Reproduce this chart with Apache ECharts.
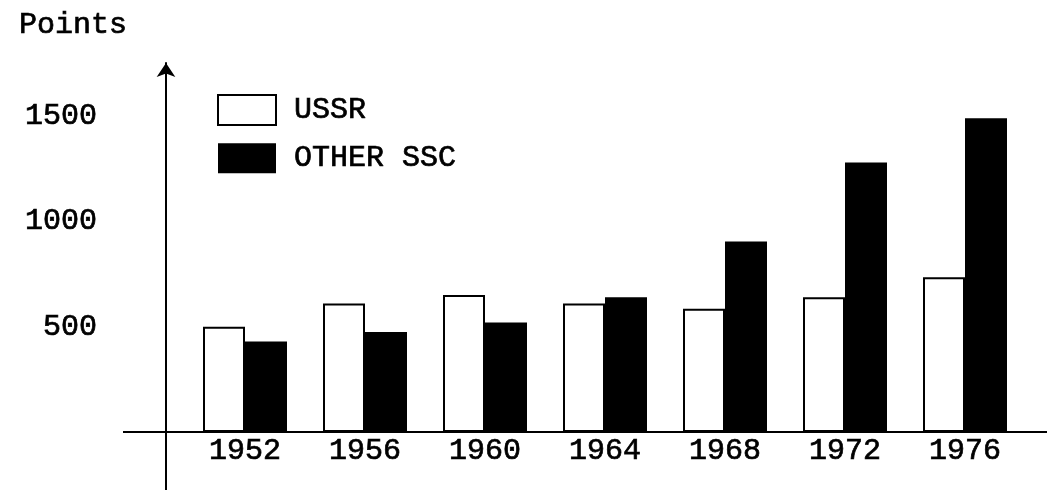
<!DOCTYPE html>
<html>
<head>
<meta charset="utf-8">
<script src="https://cdn.jsdelivr.net/npm/echarts@6/dist/echarts.min.js"></script>
<style>
html,body{margin:0;padding:0;background:#fff;}
#chart{width:1047px;height:498px;}
</style>
</head>
<body>
<div id="chart"></div>
<script>
// ---- data ----
const years = ['1952', '1956', '1960', '1964', '1968', '1972', '1976'];
const ussr = [500, 610, 650, 610, 585, 640, 735];
const otherSSC = [430, 475, 520, 640, 905, 1280, 1490];
const yTickLabels = [500, 1000, 1500];
const seriesNames = ['USSR', 'OTHER SSC'];
const yAxisTitle = 'Points';

// ---- layout / style ----
const INK = '#000';
const TXT = {
  fontFamily: '"Liberation Mono", "Courier New", monospace',
  fontSize: 30,
  fontWeight: 'normal',
  color: INK,
  textBorderColor: INK,
  textBorderWidth: 0.7
};
const GRID_LEFT = 185, GRID_RIGHT = 22, GRID_TOP = 63, GRID_BOTTOM = 66;
const Y_AXIS_OFFSET = 19;

const chart = echarts.init(document.getElementById('chart'), null, {renderer: 'canvas'});

const option = {
  backgroundColor: '#fff',
  animation: false,
  title: {
    text: yAxisTitle,
    left: 14,
    top: 5,
    textStyle: Object.assign({}, TXT)
  },
  legend: {
    orient: 'vertical',
    left: 212,
    top: 89,
    itemWidth: 58,
    itemHeight: 30,
    itemGap: 17,
    icon: 'rect',
    data: seriesNames,
    textStyle: Object.assign({}, TXT, {padding: [0, 0, 0, 13]})
  },
  grid: {left: GRID_LEFT, right: GRID_RIGHT, top: GRID_TOP, bottom: GRID_BOTTOM, containLabel: false, outerBoundsMode: 'none'},
  xAxis: {
    type: 'category',
    data: years,
    axisLine: {show: true, onZero: false, lineStyle: {color: INK, width: 2}},
    axisTick: {show: false},
    axisLabel: Object.assign({}, TXT, {margin: 4})
  },
  yAxis: {
    type: 'value',
    min: 0,
    max: 1752,
    offset: Y_AXIS_OFFSET,
    splitLine: {show: false},
    axisTick: {show: false},
    axisLine: {show: true, lineStyle: {color: INK, width: 2}, symbol: ['none', 'arrow'], symbolSize: [14, 14]},
    axisLabel: Object.assign({}, TXT, {customValues: yTickLabels, formatter: v => String(v), margin: 69})
  },
  series: [
    {
      name: seriesNames[0],
      type: 'bar',
      data: ussr,
      barWidth: 42,
      barGap: '0%',
      itemStyle: {color: '#fff', borderColor: INK, borderWidth: 2}
    },
    {
      name: seriesNames[1],
      type: 'bar',
      data: otherSSC,
      barWidth: 42,
      barGap: '0%',
      itemStyle: {color: INK}
    }
  ]
};
chart.setOption(option);

// hand-drawn axes cross each other and run past the plot area
const zeroY = chart.convertToPixel({yAxisIndex: 0}, 0);
const W = chart.getWidth();
const axisX = GRID_LEFT - Y_AXIS_OFFSET;
chart.setOption({
  graphic: [
    {type: 'line', shape: {x1: 123, y1: zeroY, x2: GRID_LEFT, y2: zeroY}, style: {stroke: INK, lineWidth: 2}},
    {type: 'line', shape: {x1: W - GRID_RIGHT, y1: zeroY, x2: W, y2: zeroY}, style: {stroke: INK, lineWidth: 2}},
    {type: 'line', shape: {x1: axisX, y1: zeroY, x2: axisX, y2: 490}, style: {stroke: INK, lineWidth: 2}}
  ]
});
</script>
</body>
</html>
